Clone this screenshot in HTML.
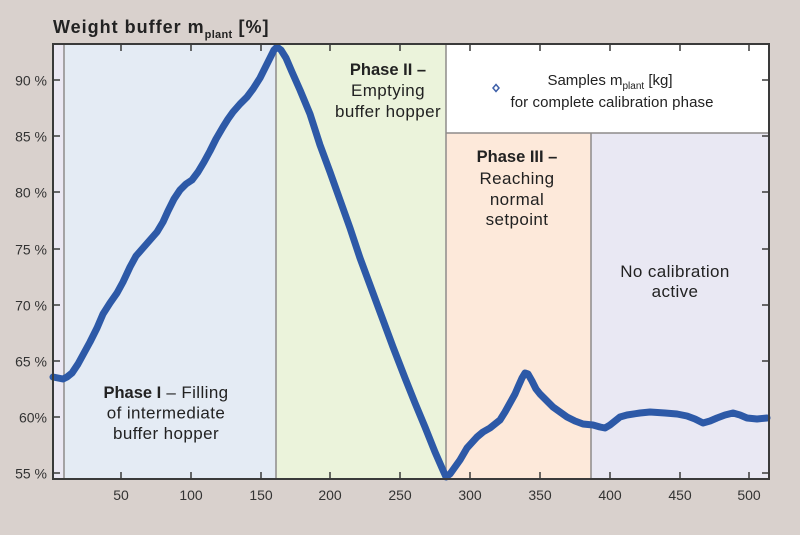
<!DOCTYPE html>
<html><head><meta charset="utf-8"><style>
html,body{margin:0;padding:0;background:#d9d1cd;}
svg{display:block;}
text{font-family:"Liberation Sans",sans-serif;fill:#222;}
.r{font-size:17px;letter-spacing:0.4px;}
.b{font-size:16.5px;font-weight:bold;letter-spacing:0;}
.ax{font-size:14px;fill:#333;}
</style></head><body>
<svg width="800" height="535" viewBox="0 0 800 535" xmlns="http://www.w3.org/2000/svg">
<rect x="0" y="0" width="800" height="535" fill="#d9d1cd"/>
<!-- regions -->
<rect x="53" y="44" width="11" height="435" fill="#ebe8f3"/>
<rect x="64" y="44" width="212" height="435" fill="#e4ebf4"/>
<rect x="276" y="44" width="170" height="435" fill="#ebf3db"/>
<rect x="446" y="44" width="323" height="89" fill="#ffffff"/>
<rect x="446" y="133" width="145" height="346" fill="#fde9da"/>
<rect x="591" y="133" width="178" height="346" fill="#e9e8f3"/>
<!-- dividers -->
<g stroke="#8e8b8a" stroke-width="1.5">
<line x1="64" y1="44" x2="64" y2="479"/>
<line x1="276" y1="44" x2="276" y2="479"/>
<line x1="446" y1="44" x2="446" y2="479"/>
<line x1="591" y1="133" x2="591" y2="479"/>
<line x1="446" y1="133" x2="769" y2="133"/>
</g>
<!-- ticks -->
<g stroke="#3a3a3a" stroke-width="1.5">
<line x1="121" y1="44" x2="121" y2="51"/><line x1="191" y1="44" x2="191" y2="51"/><line x1="261" y1="44" x2="261" y2="51"/><line x1="330" y1="44" x2="330" y2="51"/><line x1="400" y1="44" x2="400" y2="51"/><line x1="470" y1="44" x2="470" y2="51"/><line x1="540" y1="44" x2="540" y2="51"/><line x1="610" y1="44" x2="610" y2="51"/><line x1="680" y1="44" x2="680" y2="51"/><line x1="749" y1="44" x2="749" y2="51"/>
<line x1="121" y1="479" x2="121" y2="472"/><line x1="191" y1="479" x2="191" y2="472"/><line x1="261" y1="479" x2="261" y2="472"/><line x1="330" y1="479" x2="330" y2="472"/><line x1="400" y1="479" x2="400" y2="472"/><line x1="470" y1="479" x2="470" y2="472"/><line x1="540" y1="479" x2="540" y2="472"/><line x1="610" y1="479" x2="610" y2="472"/><line x1="680" y1="479" x2="680" y2="472"/><line x1="749" y1="479" x2="749" y2="472"/>
<line x1="53" y1="80" x2="60" y2="80"/><line x1="53" y1="136" x2="60" y2="136"/><line x1="53" y1="192" x2="60" y2="192"/><line x1="53" y1="249" x2="60" y2="249"/><line x1="53" y1="305" x2="60" y2="305"/><line x1="53" y1="361" x2="60" y2="361"/><line x1="53" y1="417" x2="60" y2="417"/><line x1="53" y1="473" x2="60" y2="473"/>
<line x1="769" y1="80" x2="762" y2="80"/><line x1="769" y1="136" x2="762" y2="136"/><line x1="769" y1="192" x2="762" y2="192"/><line x1="769" y1="249" x2="762" y2="249"/><line x1="769" y1="305" x2="762" y2="305"/><line x1="769" y1="361" x2="762" y2="361"/><line x1="769" y1="417" x2="762" y2="417"/><line x1="769" y1="473" x2="762" y2="473"/>
</g>
<!-- curve -->
<polyline fill="none" stroke="#2d59a7" stroke-width="7" stroke-linejoin="round" stroke-linecap="round" points="
53,377 58,378 63,379 67,377 72,373 78,364 84,353 90,342 97,328 103,314 110,303 117,293 123,282 130,267 136,256 143,248 150,240 157,232 163,222 168,211 174,199 180,190 186,184 192,180 198,172 204,162 210,151 216,139 223,127 228,119 233,112 240,104 247,97 253,89 260,78 265,68 270,58 274,50 277,47
281,50 286,58 292,72 300,90 310,114 320,145 330,172 340,200 350,228 360,258 370,285 380,312 393,347 405,378 415,403 425,427 435,452 442,468 446,477
450,474 460,460 467,448 477,437 483,432 490,428 500,420 505,412 510,403 515,394 518,387 522,378 525,373 528,374 532,381 536,389 540,394 546,400 553,407 560,412 567,417 575,421 583,424 593,425 600,427 605,428 610,425 615,421 620,417 627,415 640,413 650,412 665,413 677,414 687,416 695,419 703,423 710,421 717,418 725,415 733,413 740,415 747,418 757,419 767,418"/>
<!-- frame -->
<rect x="53" y="44" width="716" height="435" fill="none" stroke="#3a3a3a" stroke-width="2"/>
<!-- title -->
<text x="53" y="33" style="font-size:18px;font-weight:bold;letter-spacing:1px;">Weight buffer m<tspan dy="5" style="font-size:11px;letter-spacing:0.3px;">plant</tspan><tspan dy="-5"> [%]</tspan></text>
<!-- y labels -->
<g class="ax" text-anchor="end">
<text x="47" y="85.5" class="ax">90 %</text>
<text x="47" y="141.5" class="ax">85 %</text>
<text x="47" y="197.5" class="ax">80 %</text>
<text x="47" y="254.5" class="ax">75 %</text>
<text x="47" y="310.5" class="ax">70 %</text>
<text x="47" y="366.5" class="ax">65 %</text>
<text x="47" y="422.5" class="ax">60%</text>
<text x="47" y="478.5" class="ax">55 %</text>
</g>
<!-- x labels -->
<g text-anchor="middle">
<text x="121" y="500" class="ax">50</text>
<text x="191" y="500" class="ax">100</text>
<text x="261" y="500" class="ax">150</text>
<text x="330" y="500" class="ax">200</text>
<text x="400" y="500" class="ax">250</text>
<text x="470" y="500" class="ax">300</text>
<text x="540" y="500" class="ax">350</text>
<text x="610" y="500" class="ax">400</text>
<text x="680" y="500" class="ax">450</text>
<text x="749" y="500" class="ax">500</text>
</g>
<!-- Phase I -->
<g text-anchor="middle">
<text x="166" y="398"><tspan class="b">Phase I</tspan><tspan class="r"> – Filling</tspan></text>
<text x="166" y="418.5" class="r">of intermediate</text>
<text x="166" y="439" class="r">buffer hopper</text>
<!-- Phase II -->
<text x="388" y="75" class="b">Phase II –</text>
<text x="388" y="96" class="r">Emptying</text>
<text x="388" y="117" class="r">buffer hopper</text>
<!-- Phase III -->
<text x="517" y="162" class="b">Phase III –</text>
<text x="517" y="184" class="r">Reaching</text>
<text x="517" y="205" class="r">normal</text>
<text x="517" y="225" class="r">setpoint</text>
<!-- No calibration -->
<text x="675" y="277" class="r">No calibration</text>
<text x="675" y="297" class="r">active</text>
<!-- legend -->
<text x="610" y="85" style="font-size:15px;">Samples m<tspan dy="4" style="font-size:10px;">plant</tspan><tspan dy="-4"> [kg]</tspan></text>
<text x="612" y="107" style="font-size:15px;letter-spacing:0.1px;">for complete calibration phase</text>
</g>
<path d="M496,84.5 L499,88 L496,91.5 L493,88 Z" fill="#ffffff" stroke="#3d5fa8" stroke-width="1.5"/>
</svg>
</body></html>
